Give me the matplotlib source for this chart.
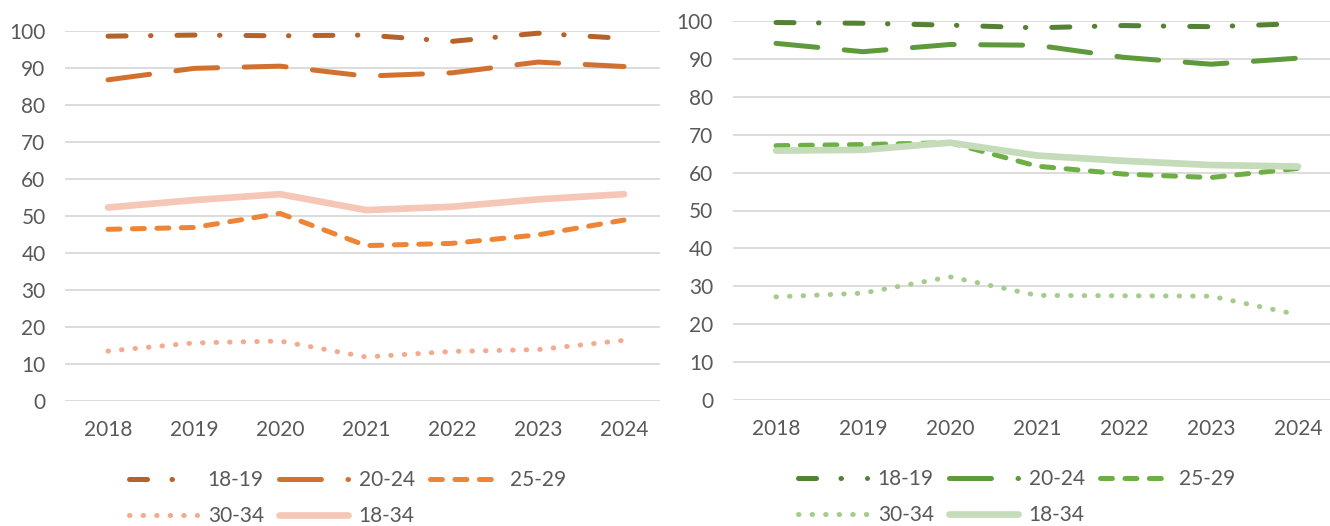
import matplotlib
matplotlib.use('Agg')
import matplotlib.pyplot as plt

plt.rcParams['font.family'] = ['Lato', 'DejaVu Sans']
plt.rcParams['lines.scale_dashes'] = False

years = ['2018', '2019', '2020', '2021', '2022', '2023', '2024']
labels = ['18-19', '20-24', '25-29', '30-34', '18-34']

# left chart (orange)
left_18_19 = [98.6, 98.9, 98.7, 98.9, 97.2, 99.4, 98.0]
left_20_24 = [86.8, 89.9, 90.5, 87.8, 88.7, 91.6, 90.4]
left_25_29 = [46.4, 46.9, 50.7, 42.0, 42.6, 44.9, 48.9]
left_30_34 = [13.5, 15.7, 16.2, 11.9, 13.4, 13.9, 16.4]
left_18_34 = [52.3, 54.3, 55.9, 51.6, 52.5, 54.5, 55.9]

# right chart (green)
right_18_19 = [99.6, 99.4, 98.9, 98.2, 98.8, 98.5, 99.3]
right_20_24 = [94.1, 91.9, 93.8, 93.6, 90.4, 88.6, 90.2]
right_25_29 = [67.1, 67.4, 67.9, 61.7, 59.6, 58.7, 61.1]
right_30_34 = [27.2, 28.2, 32.5, 27.6, 27.5, 27.4, 22.5]
right_18_34 = [65.8, 66.0, 67.9, 64.5, 63.1, 62.0, 61.6]

orange = ['#B5632A', '#D2712F', '#EE8434', '#F3AA8E', '#F6C6B6']
green = ['#548235', '#5E9A3B', '#6DAF45', '#A6CC8D', '#C4DCBA']

# dash patterns in points
styles = [(13.0, 17.6, 0.36, 18.7), (30.2, 19.1), (8.6, 9.0), (0.36, 9.4), None]
widths = [3.6, 3.6, 3.6, 3.6, 4.8]

W, H = 1330, 526
fig = plt.figure(figsize=(W / 100, H / 100), dpi=100)


def px_axes(x0, x1, ytop, ybot):
    return fig.add_axes([x0 / W, 1 - ybot / H, (x1 - x0) / W, (ybot - ytop) / H])


def draw(ax, series, colors, xright, leg_x, leg_y):
    x = list(range(len(years)))
    handles = []
    for vals, c, st, lw in zip(series, colors, styles, widths):
        if st is None:
            ln, = ax.plot(x, vals, color=c, lw=lw, solid_capstyle='round',
                          solid_joinstyle='round', clip_on=False, zorder=3)
        else:
            ln, = ax.plot(x, vals, color=c, lw=lw, dashes=st, dash_capstyle='round',
                          dash_joinstyle='round', clip_on=False, zorder=3)
        handles.append(ln)
    ax.set_ylim(0, 100)
    ax.set_yticks(range(0, 101, 10))
    ax.set_xticks(x)
    ax.set_xticklabels(years)
    ax.set_xlim(-0.5, xright)
    ax.grid(axis='y', color='#D9D9D9', lw=1.3)
    ax.set_axisbelow(True)
    for s in ax.spines.values():
        s.set_visible(False)
    ax.tick_params(axis='both', length=0, labelsize=15, colors='#595959')
    ax.tick_params(axis='y', pad=14)
    ax.tick_params(axis='x', pad=14)
    order = [0, 3, 1, 4, 2]
    ax.legend([handles[i] for i in order], [labels[i] for i in order], ncol=3,
              loc='upper left', bbox_to_anchor=(leg_x / W, 1 - leg_y / H),
              bbox_transform=fig.transFigure, frameon=False, fontsize=15,
              handlelength=3.3, handletextpad=0.5, columnspacing=0.75,
              labelspacing=0.76, borderpad=0, borderaxespad=0, labelcolor='#595959')


ax1 = px_axes(65, 660, 31, 401)
draw(ax1, [left_18_19, left_20_24, left_25_29, left_30_34, left_18_34], orange,
     -0.5 + 595 / 86, 128.5, 470)

ax2 = px_axes(732.5, 1330, 21, 400)
draw(ax2, [right_18_19, right_20_24, right_25_29, right_30_34, right_18_34], green,
     -0.5 + 597.5 / 87, 798.5, 469)

fig.savefig('out.png', dpi=100)
